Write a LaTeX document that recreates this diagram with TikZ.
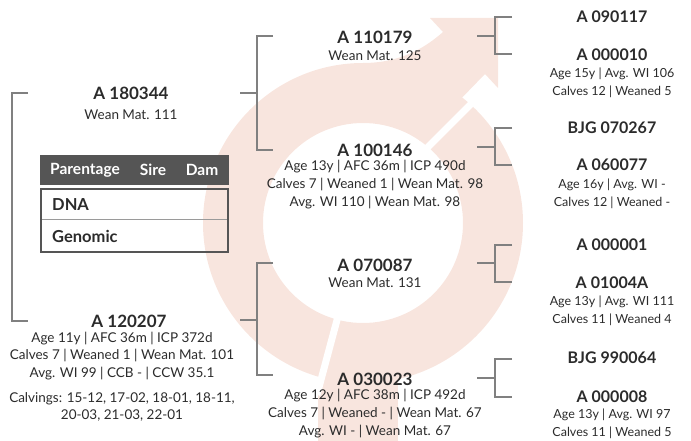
\documentclass[tikz,border=0pt]{standalone}
\usepackage{fontspec}
\setmainfont{Lato}
\definecolor{ringpink}{HTML}{F8E5DE}
\definecolor{linegray}{HTML}{808080}
\definecolor{headgray}{HTML}{555555}
\definecolor{inkgray}{HTML}{2B2B2B}
\begin{document}
\begin{tikzpicture}[
  x=1pt, y=-1pt,
  idname/.style={font=\fontsize{17}{18}\selectfont\bfseries, text=inkgray, inner sep=0pt},
  smallname/.style={idname, font=\fontsize{16}{18}\selectfont\bfseries},
  info/.style={font=\fontsize{13.5}{18}\selectfont, text=inkgray, align=center, inner sep=0pt},
  smallinfo/.style={info, font=\fontsize{12.5}{18}\selectfont},
  head/.style={font=\fontsize{15.5}{17}\selectfont\bfseries, text=white, inner sep=0pt},
  rowlabel/.style={font=\fontsize{16.5}{17}\selectfont\bfseries, text=inkgray, anchor=west, inner sep=0pt},
  bracket/.style={draw=linegray, line width=1.2pt},
  gap/.style={draw=white, line width=7pt},
]
\def\cx{363}
\def\cy{223}
\def\rin{100}
\def\rout{160}
\def\xright{612}
\def\xmid{375}

\path[use as bounding box] (0,0) rectangle (691,441);

\fill[ringpink, even odd rule] (\cx,\cy) circle[radius=\rout] (\cx,\cy) circle[radius=\rin];
\fill[ringpink] (318,330) rectangle (398,441);
\fill[ringpink] (363,63) .. controls (400,63) and (425,48) .. (443,32) -- (430,18) -- (498,18)
  -- (498,88) -- (485,74) -- (420,141) -- cycle;
\draw[gap] ([shift={(\cx,\cy)}]105:90) -- ([shift={(\cx,\cy)}]105:178);
\draw[gap] (425,150) -- (488,87);

\coordinate (lt) at (28,93);
\coordinate (lv) at (12,207);
\coordinate (lb) at (28,321);
\draw[bracket] (lt) -| (lv) |- (lb);

\coordinate (m1s) at (240,93);
\coordinate (m1v) at (257,93);
\coordinate (m1t) at (273,36);
\coordinate (m1b) at (273,150);
\draw[bracket] (m1t) -| (m1v) |- (m1b) (m1s) -- (m1v);

\coordinate (m2s) at (240,320);
\coordinate (m2v) at (257,320);
\coordinate (m2t) at (273,263);
\coordinate (m2b) at (273,375);
\draw[bracket] (m2t) -| (m2v) |- (m2b) (m2s) -- (m2v);

\coordinate (r1s) at (477,36);
\coordinate (r1v) at (495,36);
\coordinate (r1t) at (512,17);
\coordinate (r1b) at (512,54);
\draw[bracket] (r1t) -| (r1v) |- (r1b) (r1s) -- (r1v);

\coordinate (r2s) at (477,147);
\coordinate (r2v) at (495,147);
\coordinate (r2t) at (512,128);
\coordinate (r2b) at (512,165);
\draw[bracket] (r2t) -| (r2v) |- (r2b) (r2s) -- (r2v);

\coordinate (r3s) at (477,263);
\coordinate (r3v) at (495,263);
\coordinate (r3t) at (512,245);
\coordinate (r3b) at (512,282);
\draw[bracket] (r3t) -| (r3v) |- (r3b) (r3s) -- (r3v);

\coordinate (r4s) at (477,378);
\coordinate (r4v) at (495,378);
\coordinate (r4t) at (512,359);
\coordinate (r4b) at (512,397);
\draw[bracket] (r4t) -| (r4v) |- (r4b) (r4s) -- (r4v);

\node[idname] (sire) at (131,93) {A 180344};
\node[info] (sireinfo) at (131,115) {Wean Mat. 111};

\fill[headgray] (40,155) rectangle (229,185);
\node[head] (hpar) at (85,170) {Parentage};
\node[head] (hsire) at (153,170) {Sire};
\node[head] (hdam) at (202,170) {Dam};
\draw[linegray!80, line width=1pt] (41,219) -- (228,219);
\draw[headgray, line width=2pt] (41,189) rectangle (228,252);
\node[rowlabel] (rdna) at (52,205) {DNA};
\node[rowlabel] (rgen) at (52,236) {Genomic};

\node[idname] (dam) at (129,321) {A 120207};
\node[info, font=\fontsize{13.5}{17.5}\selectfont] (daminfo) at (122,356) {Age 11y | AFC 36m | ICP 372d\\Calves 7 | Weaned 1 | Wean Mat. 101\\Avg. WI 99 | CCB - | CCW 35.1};
\node[info, font=\fontsize{13.5}{17}\selectfont] (damcalv) at (122,407) {Calvings: 15-12, 17-02, 18-01, 18-11,\\20-03, 21-03, 22-01};

\node[idname] (ss) at (\xmid,37) {A 110179};
\node[info] (ssinfo) at (\xmid,56) {Wean Mat. 125};
\node[idname] (sd) at (\xmid,150) {A 100146};
\node[info] (sdinfo) at (\xmid,185) {Age 13y | AFC 36m | ICP 490d\\Calves 7 | Weaned 1 | Wean Mat. 98\\Avg. WI 110 | Wean Mat. 98};
\node[idname] (ds) at (\xmid,265) {A 070087};
\node[info] (dsinfo) at (\xmid,283) {Wean Mat. 131};
\node[idname] (dd) at (\xmid,379) {A 030023};
\node[info] (ddinfo) at (\xmid,414) {Age 12y | AFC 38m | ICP 492d\\Calves 7 | Weaned - | Wean Mat. 67\\Avg. WI - | Wean Mat. 67};

\node[smallname] (sss) at (\xright,17) {A 090117};
\node[smallname] (ssd) at (\xright,55) {A 000010};
\node[smallinfo] (ssdinfo) at (\xright,83) {Age 15y | Avg. WI 106\\Calves 12 | Weaned 5};
\node[smallname] (sds) at (\xright,128) {BJG 070267};
\node[smallname] (sdd) at (\xright,165) {A 060077};
\node[smallinfo] (sddinfo) at (\xright,194) {Age 16y | Avg. WI -\\Calves 12 | Weaned -};
\node[smallname] (dss) at (\xright,245) {A 000001};
\node[smallname] (dsd) at (\xright,283) {A 01004A};
\node[smallinfo] (dsdinfo) at (\xright,311) {Age 13y | Avg. WI 111\\Calves 11 | Weaned 4};
\node[smallname] (dds) at (\xright,358) {BJG 990064};
\node[smallname] (ddd) at (\xright,397) {A 000008};
\node[smallinfo] (dddinfo) at (\xright,424) {Age 13y | Avg. WI 97\\Calves 11 | Weaned 5};
\end{tikzpicture}
\end{document}
